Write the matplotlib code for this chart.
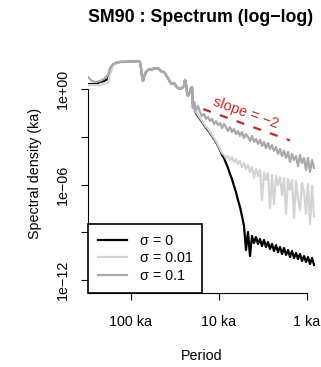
import numpy as np
import matplotlib
matplotlib.use("Agg")
import matplotlib.pyplot as plt
from matplotlib.ticker import NullLocator

plt.rcParams['font.family'] = ['Liberation Sans', 'DejaVu Sans']

# frequencies in cycles/ka (x axis is labelled by period)
freq_start = [0.00325, 0.00360, 0.00400, 0.00445, 0.00493, 0.00548, 0.00577, 0.00624]
freq_mid = [0.00676, 0.00750, 0.00855, 0.00975, 0.01110, 0.01201, 0.01265, 0.01299,
            0.01334, 0.01368, 0.01405, 0.01480, 0.01560, 0.01643, 0.01732, 0.01825,
            0.01923, 0.02026, 0.02136, 0.02251, 0.02372, 0.02499, 0.02633, 0.02775,
            0.02924, 0.03081, 0.03247, 0.03421, 0.03605, 0.03799, 0.04003, 0.04109,
            0.04218, 0.04330, 0.04445, 0.04563, 0.04684, 0.04808, 0.04935, 0.05066,
            0.05201, 0.05339]
freq_hi = [0.0548, 0.0577, 0.0608, 0.0641, 0.0676, 0.0712, 0.0750, 0.0791, 0.0833, 0.0878,
           0.0925, 0.0975, 0.1027, 0.1082, 0.1140, 0.1201, 0.1266, 0.1334, 0.1405, 0.1481,
           0.1560, 0.1644, 0.1733, 0.1826, 0.1924, 0.2027, 0.2136, 0.2251, 0.2372, 0.2499,
           0.2633, 0.2775, 0.2924, 0.3081, 0.3247, 0.3421, 0.3605, 0.3799, 0.4003, 0.4218,
           0.4445, 0.4684, 0.4935, 0.5201, 0.5480, 0.5775, 0.6085, 0.6412, 0.6757, 0.7120,
           0.7503, 0.7906, 0.8331, 0.8779, 0.9251, 0.9748, 1.0272, 1.0824, 1.1406, 1.2019]

# log10 of spectral density
logp_start_s0 = [0.31, 0.31, 0.31, 0.44, 0.50, 0.63, 1.07, 1.51]
logp_start_s001 = [0.25, 0.25, 0.25, 0.25, 0.31, 0.38, 0.94, 1.44]
logp_start_s01 = [0.75, 0.50, 0.44, 0.50, 0.63, 0.88, 1.32, 1.57]

logp_mid = [1.63, 1.70, 1.70, 1.73, 1.73, 1.76, 1.70, 1.32, 0.82, 0.50, 0.75, 1.07,
            1.19, 1.26, 1.19, 1.32, 1.26, 1.32, 1.19, 1.07, 1.07, 0.88, 0.69, 0.44,
            0.31, 0.38, 0.19, 0.06, 0.00, 0.06, 0.19, 0.57, 0.31, -0.19, -0.44, -0.31,
            -0.19, 0.06, 0.13, -1.19, -0.82, -1.32]

logp_hi_s0 = [-1.51, -1.70, -1.88, -2.07, -2.26, -2.45, -2.58, -2.76, -2.95, -3.14,
              -3.33, -3.58, -3.83, -4.14, -4.33, -4.65, -4.96, -5.34, -5.65, -6.09,
              -6.47, -6.97, -7.41, -7.98, -8.60, -10.11, -8.98, -10.49, -9.23, -9.67,
              -9.29, -9.73, -9.42, -9.86, -9.48, -9.92, -9.61, -10.05, -9.73, -10.17,
              -9.80, -10.24, -9.92, -10.36, -9.98, -10.42, -10.11, -10.55, -10.17, -10.61,
              -10.30, -10.68, -10.36, -10.80, -10.49, -10.86, -10.55, -10.99, -10.61, -11.05]
logp_hi_s001 = [-1.44, -1.63, -1.82, -2.01, -2.20, -2.39, -2.51, -2.70, -2.89, -3.08,
                -3.27, -3.52, -3.77, -4.02, -4.14, -4.33, -4.21, -4.46, -4.27, -4.58,
                -4.40, -4.71, -4.52, -4.90, -4.65, -5.02, -4.77, -5.21, -4.90, -5.59,
                -5.02, -5.46, -5.09, -6.97, -5.21, -5.71, -5.28, -7.47, -5.40, -7.22,
                -5.46, -6.03, -5.53, -6.66, -5.59, -7.85, -5.65, -6.34, -5.71, -8.10,
                -5.78, -6.85, -7.60, -5.90, -6.47, -7.85, -5.97, -8.48, -6.09, -7.98]
logp_hi_s01 = [-1.32, -1.07, -1.44, -1.70, -1.57, -1.88, -1.76, -2.01, -1.88, -2.20,
               -2.01, -2.26, -2.14, -2.45, -2.20, -2.39, -2.64, -2.39, -2.70, -2.51,
               -2.83, -2.64, -2.95, -2.70, -3.08, -2.83, -3.01, -3.27, -2.95, -3.33,
               -3.14, -3.45, -3.20, -3.58, -3.33, -3.71, -3.39, -3.77, -3.52, -3.89,
               -3.64, -4.08, -3.77, -4.21, -3.89, -4.33, -3.96, -4.58, -4.08, -4.46,
               -4.21, -4.84, -4.14, -4.65, -4.33, -5.09, -4.33, -5.21, -4.46, -4.96]

# reference power law of slope -2
slope_freq = [0.066, 0.64]
slope_psd = [5.5e-2, 5.9e-4]

labels = ['σ = 0', 'σ = 0.01', 'σ = 0.1']
colors = ['#000000', '#d3d3d3', '#a9a9a9']

freq_all = np.array(freq_start + freq_mid + freq_hi)
series = [logp_start_s0 + logp_mid + logp_hi_s0,
          logp_start_s001 + logp_mid + logp_hi_s001,
          logp_start_s01 + logp_mid + logp_hi_s01]

fig = plt.figure(figsize=(3.21, 3.67), dpi=100)
ax = fig.add_axes([88 / 321, 74 / 367, 227 / 321, 240 / 367])

for logp, col, lab in zip(series, colors, labels):
    ax.plot(freq_all, 10.0 ** np.array(logp), color=col, lw=1.6, label=lab,
            solid_joinstyle='round')

ax.plot(slope_freq, slope_psd, color='#cd2626', lw=1.6, dashes=(3.7, 4.3))
ax.text(0.2027, 0.031, 'slope = −2', color='#cd2626', fontsize=10.5,
        rotation=-19.6, rotation_mode='anchor', ha='center', va='center')

ax.set_xscale('log')
ax.set_yscale('log')
ax.set_xlim(0.00325, 1.233)
ax.set_ylim(10 ** -12.81, 10 ** 2.26)

for s in ['top', 'right']:
    ax.spines[s].set_visible(False)
ax.spines['left'].set_bounds(1e-12, 1)
ax.spines['bottom'].set_bounds(0.00325, 1)
for s in ['left', 'bottom']:
    ax.spines[s].set_linewidth(0.8)

ax.set_xticks([0.01, 0.1, 1])
ax.set_xticklabels(['100 ka', '10 ka', '1 ka'])
ax.set_yticks([1e-12, 1e-9, 1e-6, 1e-3, 1])
ax.set_yticklabels(['1e−12', '', '1e−06', '', '1e+00'], rotation=90, va='center')
ax.xaxis.set_minor_locator(NullLocator())
ax.yaxis.set_minor_locator(NullLocator())
ax.tick_params(direction='out', length=5, width=0.8, labelsize=10.3)
ax.tick_params(axis='x', pad=11)
ax.tick_params(axis='y', pad=8)

ax.set_xlabel('Period', fontsize=10.3, labelpad=14)
ax.set_ylabel('Spectral density (ka)', fontsize=10.3, labelpad=10)
fig.text(201 / 321, 1 - 17 / 367, 'SM90 : Spectrum (log−log)', fontsize=12.8,
         fontweight='bold', ha='center', va='center')

leg = ax.legend(loc='lower left', bbox_to_anchor=(0, 0), borderaxespad=0,
                fontsize=10.3, handlelength=2.0, handletextpad=0.9,
                borderpad=0.7, labelspacing=0.25, fancybox=False,
                framealpha=1, edgecolor='black')
leg.get_frame().set_linewidth(1.2)
for line in leg.get_lines():
    line.set_linewidth(1.6)

fig.savefig('out.png', dpi=100)
